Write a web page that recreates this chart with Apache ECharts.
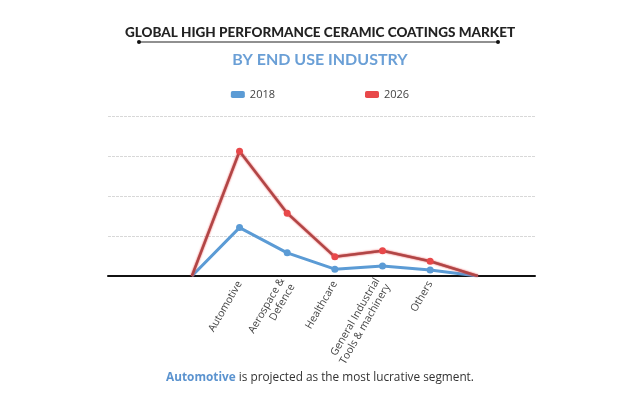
<!DOCTYPE html>
<html>
<head>
<meta charset="utf-8">
<script src="https://cdn.jsdelivr.net/npm/echarts@6/dist/echarts.min.js"></script>
<style>
  html, body { margin: 0; padding: 0; background: #ffffff; }
  #main { width: 640px; height: 402px; }
</style>
</head>
<body>
<div id="main"></div>
<script>
// categories (blank start / end points pin the lines to zero)
var categories = ['', 'Automotive', 'Aerospace &\nDefence', 'Healthcare', 'General Industrial\nTools & machinery', 'Others', ''];
var values2018 = [0, 1.21, 0.58, 0.17, 0.25, 0.15, 0];
var values2026 = [0, 3.12, 1.57, 0.48, 0.63, 0.37, 0];
var labelPositions = [1, 2, 3, 4, 5];

var myChart = echarts.init(document.getElementById('main'));

// end points have no marker
function toPairs(arr) {
    return arr.map(function (v, i) {
        var item = { value: [i, v] };
        if (categories[i] === '') item.symbol = 'none';
        return item;
    });
}

myChart.setOption({
    backgroundColor: '#ffffff',
    title: [
        {
            text: 'GLOBAL HIGH PERFORMANCE CERAMIC COATINGS MARKET',
            left: 'center',
            top: 21,
            textStyle: { fontFamily: 'Lato', fontWeight: 900, fontSize: 13.5, color: '#222222' }
        },
        {
            text: 'BY END USE INDUSTRY',
            left: 'center',
            top: 47,
            textStyle: { fontFamily: 'Lato', fontWeight: 'bold', fontSize: 16, color: '#6a9fd6' }
        }
    ],
    graphic: [
        { type: 'line', shape: { x1: 139, y1: 42, x2: 498, y2: 42 }, style: { stroke: '#222', lineWidth: 1.2 } },
        { type: 'circle', shape: { cx: 139, cy: 42, r: 2 }, style: { fill: '#111' } },
        { type: 'circle', shape: { cx: 498, cy: 42, r: 2 }, style: { fill: '#111' } },
        {
            type: 'text',
            left: 'center',
            top: 372,
            style: {
                text: '{b|Automotive} is projected as the most lucrative segment.',
                font: '11.8px "Open Sans"',
                fill: '#333',
                rich: {
                    b: { fontFamily: 'Open Sans', fontWeight: 'bold', fontSize: 11.8, fill: '#5b93cf' }
                }
            }
        }
    ],
    legend: {
        top: 84,
        left: 'center',
        itemGap: 90,
        icon: 'roundRect',
        itemWidth: 14,
        itemHeight: 7,
        textStyle: { fontFamily: 'Open Sans', fontSize: 11, color: '#444' },
        data: ['2018', '2026']
    },
    grid: {
        left: 108,
        right: 105,
        top: 116,
        bottom: 126
    },
    xAxis: {
        type: 'value',
        min: -1.76,
        max: 7.2,
        splitLine: { show: false },
        axisLine: { show: true, onZero: false, lineStyle: { color: '#111', width: 2 } },
        axisTick: { show: false },
        axisLabel: {
            customValues: labelPositions,
            rotate: 60,
            interval: 0,
            fontFamily: 'Open Sans',
            fontSize: 10.5,
            color: '#444',
            lineHeight: 12,
            margin: 6,
            formatter: function (v) { return categories[Math.round(v)]; }
        }
    },
    yAxis: {
        type: 'value',
        min: 0,
        max: 4,
        interval: 1,
        axisLine: { show: false },
        axisTick: { show: false },
        axisLabel: { show: false },
        splitLine: { lineStyle: { color: '#d8d8d8', type: [3, 1], width: 1 } }
    },
    series: [
        {
            name: '2018',
            type: 'line',
            data: toPairs(values2018),
            symbol: 'circle',
            symbolSize: 7,
            itemStyle: { color: '#5b9bd5' },
            lineStyle: { color: '#5b9bd5', width: 3 },
            z: 3
        },
        {
            name: '2026',
            type: 'line',
            data: toPairs(values2026),
            symbol: 'circle',
            symbolSize: 7,
            itemStyle: { color: '#e8484a' },
            lineStyle: { color: '#b04646', width: 2.5, shadowColor: '#e8484a', shadowBlur: 2 },
            z: 4
        }
    ]
});
</script>
</body>
</html>
